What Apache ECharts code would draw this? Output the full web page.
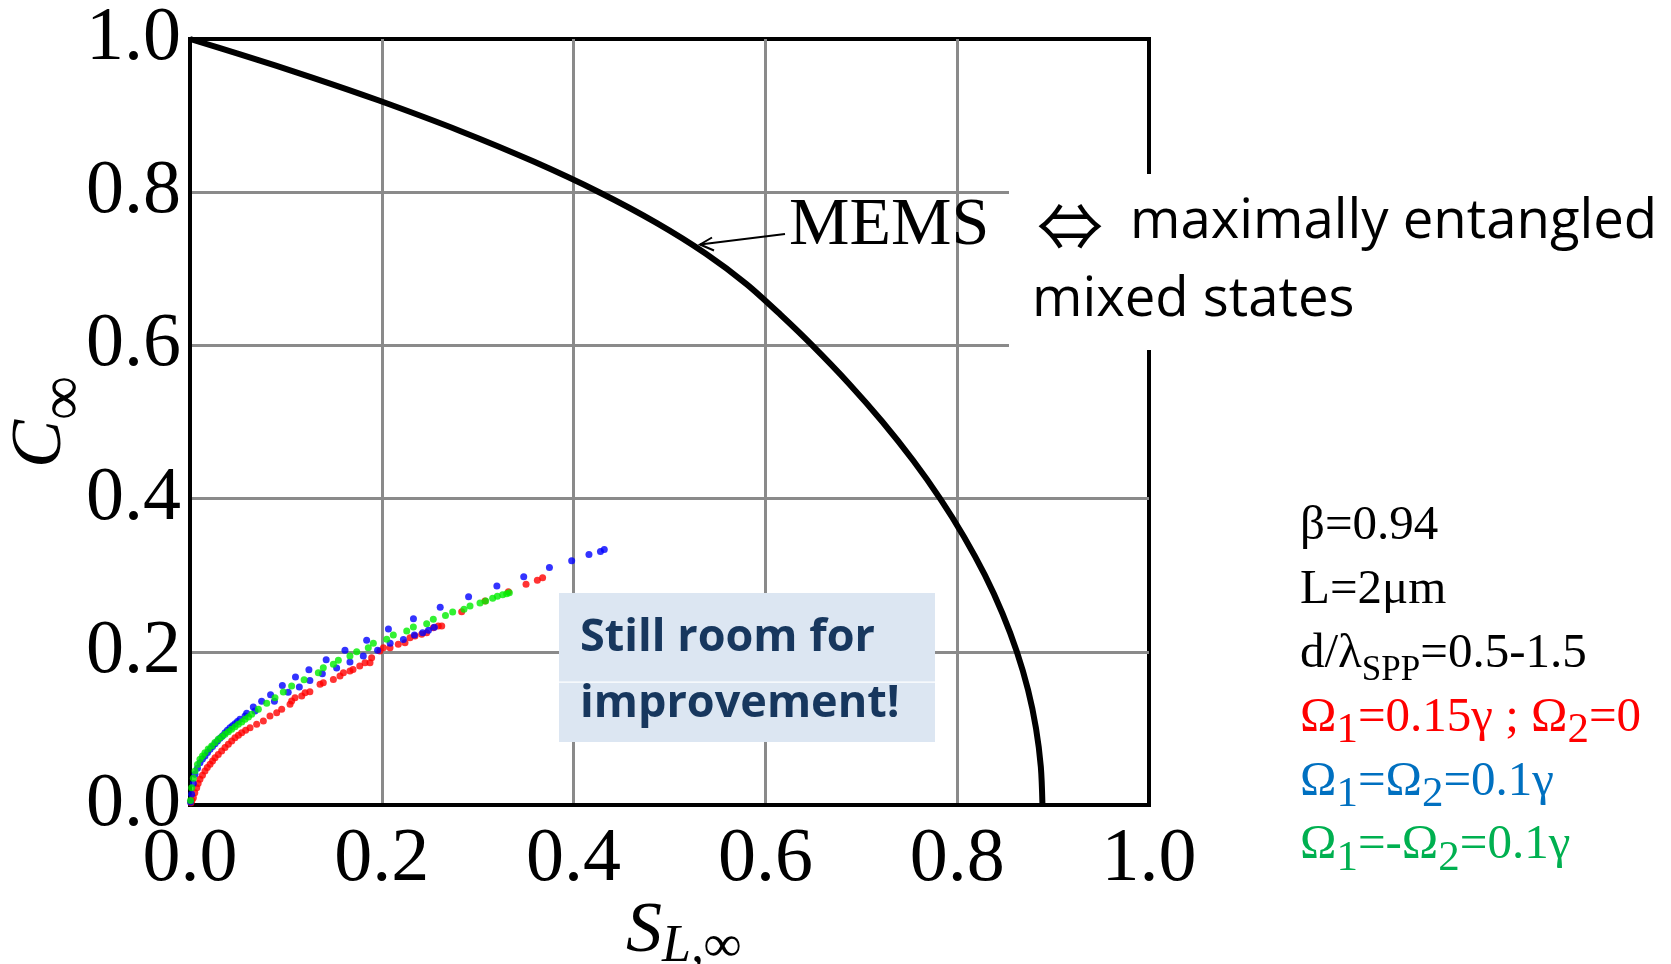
<!DOCTYPE html>
<html>
<head>
<meta charset="utf-8">
<title>Concurrence vs linear entropy</title>
<script src="https://cdn.jsdelivr.net/npm/echarts@6/dist/echarts.min.js"></script>
<style>
  html, body { margin: 0; padding: 0; background: #ffffff; }
  #chart { width: 1671px; height: 964px; }
</style>
</head>
<body>
<div id="chart"></div>
<script>
// Tick labels shared by both axes
const tickLabels = ['0.0', '0.2', '0.4', '0.6', '0.8', '1.0'];

// MEMS boundary: [S_L, C]
const memsCurve = [
  [0.0, 1.0], [0.0523, 0.98], [0.1267, 0.95], [0.1963, 0.92], [0.2816, 0.88],
  [0.3584, 0.84], [0.4267, 0.80], [0.4864, 0.76], [0.5376, 0.72], [0.5803, 0.68],
  [0.6158, 0.64], [0.6489, 0.60], [0.6872, 0.55], [0.7222, 0.50], [0.7539, 0.45],
  [0.7822, 0.40], [0.8072, 0.35], [0.8289, 0.30], [0.8472, 0.25], [0.8622, 0.20],
  [0.8739, 0.15], [0.8822, 0.10], [0.8872, 0.05], [0.8889, 0.0]
];

// Ω1 = 0.15γ ; Ω2 = 0
const drivenOne = [
  [0.001, 0.003], [0.002, 0.006], [0.0035, 0.0095], [0.005, 0.016], [0.007, 0.0226],
  [0.0085, 0.028], [0.0104, 0.0335], [0.013, 0.039], [0.0156, 0.0444], [0.018, 0.049],
  [0.0209, 0.0531], [0.0235, 0.0575], [0.0261, 0.0618], [0.0295, 0.066], [0.033, 0.0705],
  [0.0365, 0.075], [0.04, 0.0792], [0.0435, 0.0835], [0.0469, 0.0879], [0.0505, 0.091],
  [0.0539, 0.0944], [0.058, 0.0975], [0.0626, 0.1009], [0.0695, 0.1053], [0.0765, 0.1097],
  [0.0834, 0.1162], [0.0904, 0.1205], [0.0956, 0.1249], [0.1043, 0.1315], [0.106, 0.1358],
  [0.1095, 0.14], [0.1165, 0.1423], [0.12, 0.1466], [0.125, 0.148], [0.1356, 0.1575],
  [0.139, 0.1597], [0.1495, 0.164], [0.1564, 0.1684], [0.16, 0.1727], [0.1668, 0.175],
  [0.17, 0.177], [0.177, 0.1815], [0.1825, 0.1858], [0.1877, 0.1858], [0.1894, 0.1923],
  [0.198, 0.201], [0.2017, 0.2053], [0.2086, 0.2054], [0.2172, 0.2098], [0.2242, 0.2119],
  [0.2294, 0.2184], [0.2346, 0.2206], [0.2416, 0.2228], [0.2468, 0.225], [0.2537, 0.2315],
  [0.2589, 0.2337], [0.2625, 0.2337], [0.2833, 0.2524], [0.3076, 0.2663], [0.332, 0.2785],
  [0.3504, 0.2881], [0.3622, 0.2933], [0.3677, 0.2968]
];

// Ω1 = Ω2 = 0.1γ
const drivenEqual = [
  [0.0005, 0.004], [0.0017, 0.014], [0.0035, 0.028], [0.0052, 0.040], [0.0078, 0.048],
  [0.0104, 0.0552], [0.013, 0.060], [0.0156, 0.064], [0.0183, 0.0685], [0.0209, 0.0727],
  [0.0235, 0.0765], [0.0261, 0.080], [0.0287, 0.0835], [0.0313, 0.087], [0.034, 0.0905],
  [0.0365, 0.0944], [0.039, 0.0975], [0.0417, 0.1009], [0.0443, 0.1035], [0.0469, 0.1061],
  [0.0495, 0.109], [0.0521, 0.1118], [0.0574, 0.1162], [0.0591, 0.1197], [0.066, 0.128],
  [0.0678, 0.1227], [0.0747, 0.1355], [0.084, 0.144], [0.088, 0.1355], [0.0963, 0.156],
  [0.1024, 0.1473], [0.11, 0.167], [0.114, 0.154], [0.124, 0.1765], [0.125, 0.1625],
  [0.138, 0.1714], [0.142, 0.1895], [0.1529, 0.1789], [0.1616, 0.202], [0.1668, 0.1868],
  [0.1807, 0.1945], [0.1842, 0.215], [0.1956, 0.202], [0.2069, 0.2298], [0.2087, 0.211],
  [0.2225, 0.216], [0.233, 0.2432], [0.234, 0.2218], [0.2426, 0.225], [0.2487, 0.228],
  [0.2548, 0.2322], [0.2609, 0.258], [0.2905, 0.272], [0.32, 0.286], [0.348, 0.298],
  [0.3748, 0.31], [0.398, 0.319], [0.416, 0.327], [0.428, 0.331], [0.432, 0.3337]
];

// Ω1 = -Ω2 = 0.1γ
const drivenOpposite = [
  [0.0005, 0.006], [0.0017, 0.0226], [0.0035, 0.035], [0.0052, 0.0444], [0.0078, 0.053],
  [0.0104, 0.0597], [0.013, 0.064], [0.0156, 0.0683], [0.019, 0.073], [0.0226, 0.077],
  [0.026, 0.0815], [0.0295, 0.0857], [0.033, 0.089], [0.0365, 0.0922], [0.04, 0.0955],
  [0.0434, 0.0988], [0.047, 0.102], [0.0504, 0.1053], [0.054, 0.1085], [0.0574, 0.1118],
  [0.061, 0.115], [0.0643, 0.1184], [0.0713, 0.1249], [0.08, 0.1327], [0.0886, 0.14],
  [0.0973, 0.1475], [0.106, 0.1553], [0.119, 0.1634], [0.1338, 0.1727], [0.139, 0.1792],
  [0.1495, 0.1837], [0.1547, 0.1889], [0.1668, 0.1945], [0.1738, 0.2001], [0.1859, 0.2054],
  [0.1912, 0.2111], [0.2051, 0.2163], [0.212, 0.2219], [0.226, 0.2272], [0.2329, 0.2324],
  [0.2468, 0.2367], [0.2537, 0.2424], [0.2664, 0.2474], [0.2739, 0.252], [0.2857, 0.2555],
  [0.292, 0.2598], [0.3024, 0.2637], [0.3083, 0.2663], [0.3156, 0.2698], [0.3205, 0.2724],
  [0.326, 0.2746], [0.3302, 0.2759], [0.333, 0.2772]
];

// Parameter block on the right (rich-text markup, one entry per line)
const paramLines = [
  { text: 'β=0.94', color: '#000000' },
  { text: 'L=2μm', color: '#000000' },
  { text: 'd/λ{spp|SPP}=0.5-1.5', color: '#000000' },
  { text: 'Ω{sub|1}=0.15γ ; Ω{sub|2}=0', color: '#FF0000' },
  { text: 'Ω{sub|1}=Ω{sub|2}=0.1γ', color: '#0070C0' },
  { text: 'Ω{sub|1}=-Ω{sub|2}=0.1γ', color: '#00B050' }
];

const SERIF = '"Liberation Serif", "Times New Roman", "DejaVu Serif", serif';
const SANS = '"Open Sans", "Noto Sans", "DejaVu Sans", sans-serif';

const chart = echarts.init(document.getElementById('chart'), null, { width: 1671, height: 964 });

const tickFormatter = v => tickLabels[Math.round(v / 0.2)];

function valueAxis(extra, labelMargin) {
  return Object.assign({
    type: 'value',
    min: 0,
    max: 1,
    interval: 0.2,
    axisLine: { show: true, onZero: false, lineStyle: { color: '#000', width: 4 } },
    axisTick: { show: false },
    splitLine: {
      show: true,
      showMinLine: false,
      showMaxLine: false,
      lineStyle: { color: '#8a8a8a', width: 3 }
    },
    axisLabel: {
      fontSize: 76,
      fontFamily: SERIF,
      color: '#000',
      margin: labelMargin,
      formatter: tickFormatter
    },
    nameLocation: 'middle',
    nameMoveOverlap: false
  }, extra);
}

const paramBaseline0 = 543;
const paramStep = 63.8;
const paramFont = 49;

const graphics = [];

// White panel for the MEMS explanation (hides grid and frame behind it)
graphics.push({
  type: 'rect', z: 50,
  shape: { x: 1009, y: 174, width: 662, height: 176 },
  style: { fill: '#ffffff' }
});
graphics.push({
  type: 'text', z: 60, x: 789, y: 226,
  style: { text: 'MEMS', fontSize: 68, fontFamily: SERIF, fill: '#000', align: 'left', verticalAlign: 'middle' }
});
// Arrow from the MEMS label to the curve
graphics.push({
  type: 'polyline', z: 60,
  shape: { points: [[785, 234], [700, 244.5]] },
  style: { stroke: '#000', lineWidth: 2, fill: null }
});
graphics.push({
  type: 'polyline', z: 60,
  shape: { points: [[712, 237.5], [700, 244.5], [714, 250.5]] },
  style: { stroke: '#000', lineWidth: 2, fill: null }
});
graphics.push({
  type: 'text', z: 60, x: 1037, y: 226,
  style: { text: '⇔', fontSize: 66, fontFamily: '"Noto Sans CJK JP", "DejaVu Sans", sans-serif', fill: '#000', align: 'left', verticalAlign: 'middle' }
});
graphics.push({
  type: 'text', z: 60, x: 1130, y: 222,
  style: { text: 'maximally entangled', fontSize: 54.5, fontFamily: SANS, fill: '#000', align: 'left', verticalAlign: 'middle' }
});
graphics.push({
  type: 'text', z: 60, x: 1032, y: 300,
  style: { text: 'mixed states', fontSize: 54.5, fontFamily: SANS, fill: '#000', align: 'left', verticalAlign: 'middle' }
});

// "Still room for improvement!" callout
graphics.push({
  type: 'rect', z: 50,
  shape: { x: 559, y: 593, width: 376, height: 149 },
  style: { fill: '#DCE6F2' }
});
graphics.push({
  type: 'rect', z: 51,
  shape: { x: 559, y: 681.5, width: 376, height: 1.2 },
  style: { fill: '#ffffff' }
});
graphics.push({
  type: 'text', z: 60, x: 580, y: 638,
  style: { text: 'Still room for', fontSize: 45, fontWeight: 'bold', fontFamily: SANS, fill: '#17375E', align: 'left', verticalAlign: 'middle' }
});
graphics.push({
  type: 'text', z: 60, x: 580, y: 704,
  style: { text: 'improvement!', fontSize: 45, fontWeight: 'bold', fontFamily: SANS, fill: '#17375E', align: 'left', verticalAlign: 'middle' }
});

// Parameter lines
paramLines.forEach((line, i) => {
  const baseline = paramBaseline0 + i * paramStep;
  graphics.push({
    type: 'text', z: 60, x: 1300, y: baseline - 0.3375 * paramFont,
    style: {
      text: line.text,
      fontSize: paramFont,
      fontFamily: SERIF,
      fill: line.color,
      lineHeight: 60,
      align: 'left',
      verticalAlign: 'middle',
      rich: {
        sub: { fontSize: 43, fontFamily: SERIF, fill: line.color, lineHeight: 60, padding: [26, 0, 0, 0] },
        spp: { fontSize: 35, fontFamily: SERIF, fill: line.color, lineHeight: 60, padding: [34, 0, 0, 0] }
      }
    }
  });
});

const option = {
  animation: false,
  backgroundColor: '#ffffff',
  grid: {
    left: 190, top: 39, width: 959, height: 766,
    show: true,
    borderColor: '#000',
    borderWidth: 4,
    backgroundColor: 'transparent',
    containLabel: false,
    outerBoundsMode: 'none'
  },
  xAxis: valueAxis({
    name: '{s|S}{sub|L,∞}',
    nameGap: 90,
    nameTextStyle: {
      padding: [0, 0, 0, 28],
      rich: {
        s: { fontSize: 72, fontStyle: 'italic', fontFamily: SERIF, color: '#000', lineHeight: 74 },
        sub: { fontSize: 52, fontStyle: 'italic', fontFamily: SERIF, color: '#000', lineHeight: 74, padding: [30, 0, 0, 0] }
      }
    }
  }, 17),
  yAxis: valueAxis({
    name: '{c|C}{sub|∞}',
    nameRotate: 90,
    nameGap: 112,
    nameTextStyle: {
      rich: {
        c: { fontSize: 72, fontStyle: 'italic', fontFamily: SERIF, color: '#000', lineHeight: 74 },
        sub: { fontSize: 62, fontFamily: SERIF, color: '#000', lineHeight: 74, padding: [50, 0, 0, 0] }
      }
    }
  }, 9),
  series: [
    {
      name: 'MEMS',
      type: 'line',
      data: memsCurve,
      showSymbol: false,
      smooth: 0.3,
      lineStyle: { color: '#000', width: 6 },
      z: 3
    },
    {
      name: 'Ω1=0.15γ ; Ω2=0',
      type: 'scatter',
      data: drivenOne,
      symbolSize: 7,
      itemStyle: { color: '#FF0000' },
      z: 4
    },
    {
      name: 'Ω1=Ω2=0.1γ',
      type: 'scatter',
      data: drivenEqual,
      symbolSize: 7,
      itemStyle: { color: '#0000FF' },
      z: 5
    },
    {
      name: 'Ω1=-Ω2=0.1γ',
      type: 'scatter',
      data: drivenOpposite,
      symbolSize: 7,
      itemStyle: { color: '#00EE00' },
      z: 6
    }
  ],
  graphic: graphics
};

chart.setOption(option);
</script>
</body>
</html>
